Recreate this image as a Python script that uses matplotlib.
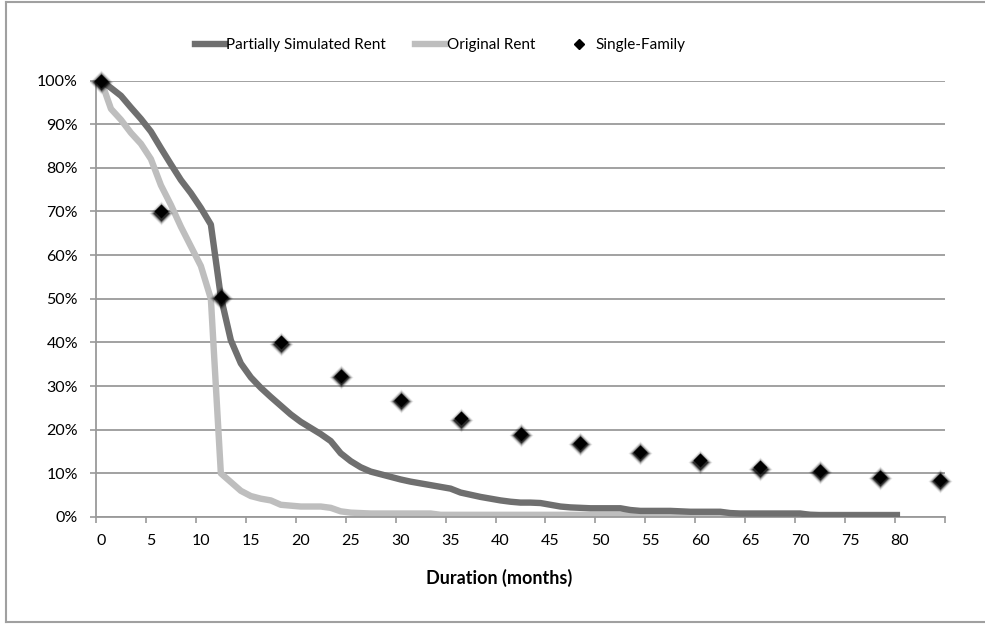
import numpy as np
import matplotlib
matplotlib.use("Agg")
import matplotlib.pyplot as plt
from matplotlib.ticker import FuncFormatter, FixedLocator
from matplotlib.lines import Line2D

plt.rcParams['font.family'] = ['Lato', 'DejaVu Sans']

# ---- data ----
months = list(range(0, 81))
partially_simulated = [
    100, 98.3, 96.5, 93.8, 91.2, 88.3, 84.5, 80.8, 77.2, 74.2,
    70.8, 67.0, 50.4, 40.5, 35.2, 32.0, 29.6, 27.5, 25.5, 23.5,
    21.8, 20.4, 19.0, 17.4, 14.6, 12.8, 11.4, 10.4, 9.8, 9.2,
    8.6, 8.1, 7.7, 7.3, 6.9, 6.5, 5.6, 5.1, 4.6, 4.2,
    3.8, 3.5, 3.3, 3.3, 3.2, 2.8, 2.4, 2.2, 2.1, 2.0,
    2.0, 2.0, 2.0, 1.6, 1.4, 1.4, 1.4, 1.4, 1.3, 1.2,
    1.2, 1.2, 1.2, 0.9, 0.8, 0.8, 0.8, 0.8, 0.8, 0.8,
    0.8, 0.5, 0.4, 0.4, 0.4, 0.4, 0.4, 0.4, 0.4, 0.4,
    0.4]
original = [
    100, 93.5, 91.0, 88.0, 85.5, 82.0, 76.0, 71.5, 66.5, 62.0,
    57.5, 50.0, 10.0, 8.0, 6.0, 4.8, 4.2, 3.8, 2.8, 2.6,
    2.4, 2.4, 2.4, 2.1, 1.3, 1.0, 0.9, 0.8, 0.8, 0.8,
    0.8, 0.8, 0.8, 0.8, 0.5, 0.5, 0.5, 0.5, 0.5, 0.5,
    0.5, 0.5, 0.5, 0.5, 0.5, 0.5, 0.5, 0.5, 0.5, 0.5,
    0.5, 0.5, 0.5, 0.5, 0.5, 0.5, 0.5, 0.5, 0.5, 0.5,
    0.5, 0.5, 0.5, 0.5, 0.5, 0.5, 0.5, 0.5, 0.5, 0.5,
    0.5, 0.5, 0.5, 0.5, 0.5, 0.5, 0.5, 0.5, 0.5, 0.5,
    0.5]
sf_months = [0, 6, 12, 18, 24, 30, 36, 42, 48, 54, 60, 66, 72, 78, 84]
single_family = [100, 70.0, 50.4, 40.0, 32.3, 26.8, 22.6, 19.0, 17.0, 14.9,
                 13.0, 11.4, 10.6, 9.2, 8.5]
x_tick_labels = [str(v) for v in range(0, 81, 5)]

DARK = '#6f6f6f'
LIGHT = '#bebebe'
GRID = '#9a9a9a'

fig = plt.figure(figsize=(9.85, 6.27), dpi=100)
ax = fig.add_axes([96/985, 1-517/627, (945-96)/985, (517-80.5)/627])

m = np.array(months)
ax.plot(m, np.array(partially_simulated)/100, color=DARK, lw=4.6,
        solid_joinstyle='round', solid_capstyle='butt', zorder=3,
        label='Partially Simulated Rent')
ax.plot(m, np.array(original)/100, color=LIGHT, lw=4.6,
        solid_joinstyle='round', solid_capstyle='butt', zorder=2,
        label='Original Rent')

sfm = np.array(sf_months)
sfv = np.array(single_family)/100
# soft shadow around markers
for ms, a in [(12.5, 0.07), (11.5, 0.12), (10.5, 0.2), (9.5, 0.35), (8.6, 0.6)]:
    ax.plot(sfm, sfv - 0.003, ls='none', marker='D', ms=ms, color='#000000',
            alpha=a, mec='none', zorder=4, clip_on=False)
ax.plot(sfm, sfv, ls='none', marker='D', ms=7.6, color='black', mec='none',
        zorder=5, clip_on=False, label='Single-Family')

ax.set_xlim(-0.5, 84.5)
ax.set_ylim(0, 1.0)

ax.yaxis.set_major_locator(FixedLocator(np.arange(0, 1.01, 0.1)))
ax.yaxis.set_major_formatter(FuncFormatter(lambda v, p: f"{int(round(v*100))}%"))
ax.grid(axis='y', color=GRID, lw=1.3, zorder=0)
ax.set_axisbelow(True)

ax.set_xticks(range(0, 81, 5))
ax.set_xticklabels(x_tick_labels)
ax.set_xticks(np.arange(-0.5, 85, 5), minor=True)
ax.tick_params(axis='x', which='major', length=0, pad=12, labelsize=11.5, colors='black')
ax.tick_params(axis='x', which='minor', length=4.5, width=1.2, color=GRID, direction='out')
ax.tick_params(axis='y', which='major', length=4, width=1.2, color=GRID, pad=9,
               labelsize=11.5, labelcolor='black')

for s in ['top', 'right']:
    ax.spines[s].set_visible(False)
for s in ['left', 'bottom']:
    ax.spines[s].set_color(GRID)
    ax.spines[s].set_linewidth(1.3)

fig.text(499/985, 1-578/627, 'Duration (months)', ha='center', va='center',
         fontsize=13, fontweight='bold')

handles = [Line2D([], [], color=DARK, lw=4.6),
           Line2D([], [], color=LIGHT, lw=4.6),
           Line2D([], [], ls='none', marker='D', ms=5.5, color='black')]
labels = ['Partially Simulated Rent', 'Original Rent', 'Single-Family']
fig.legend(handles, labels, loc='center left', bbox_to_anchor=(195/985, 1-45/627),
           ncol=3, frameon=False, fontsize=11, handlelength=1.96,
           handletextpad=0.1, columnspacing=1.9, borderaxespad=0, borderpad=0)

# chart border
border = dict(color='#a0a0a0', lw=1.5, transform=fig.transFigure, clip_on=False)
fig.add_artist(Line2D([6/985, 1], [1-2/627, 1-2/627], **border))
fig.add_artist(Line2D([6/985, 6/985], [1-2/627, 1-622/627], **border))
fig.add_artist(Line2D([6/985, 1], [1-622/627, 1-622/627], **border))

fig.savefig('out.png', dpi=100)
